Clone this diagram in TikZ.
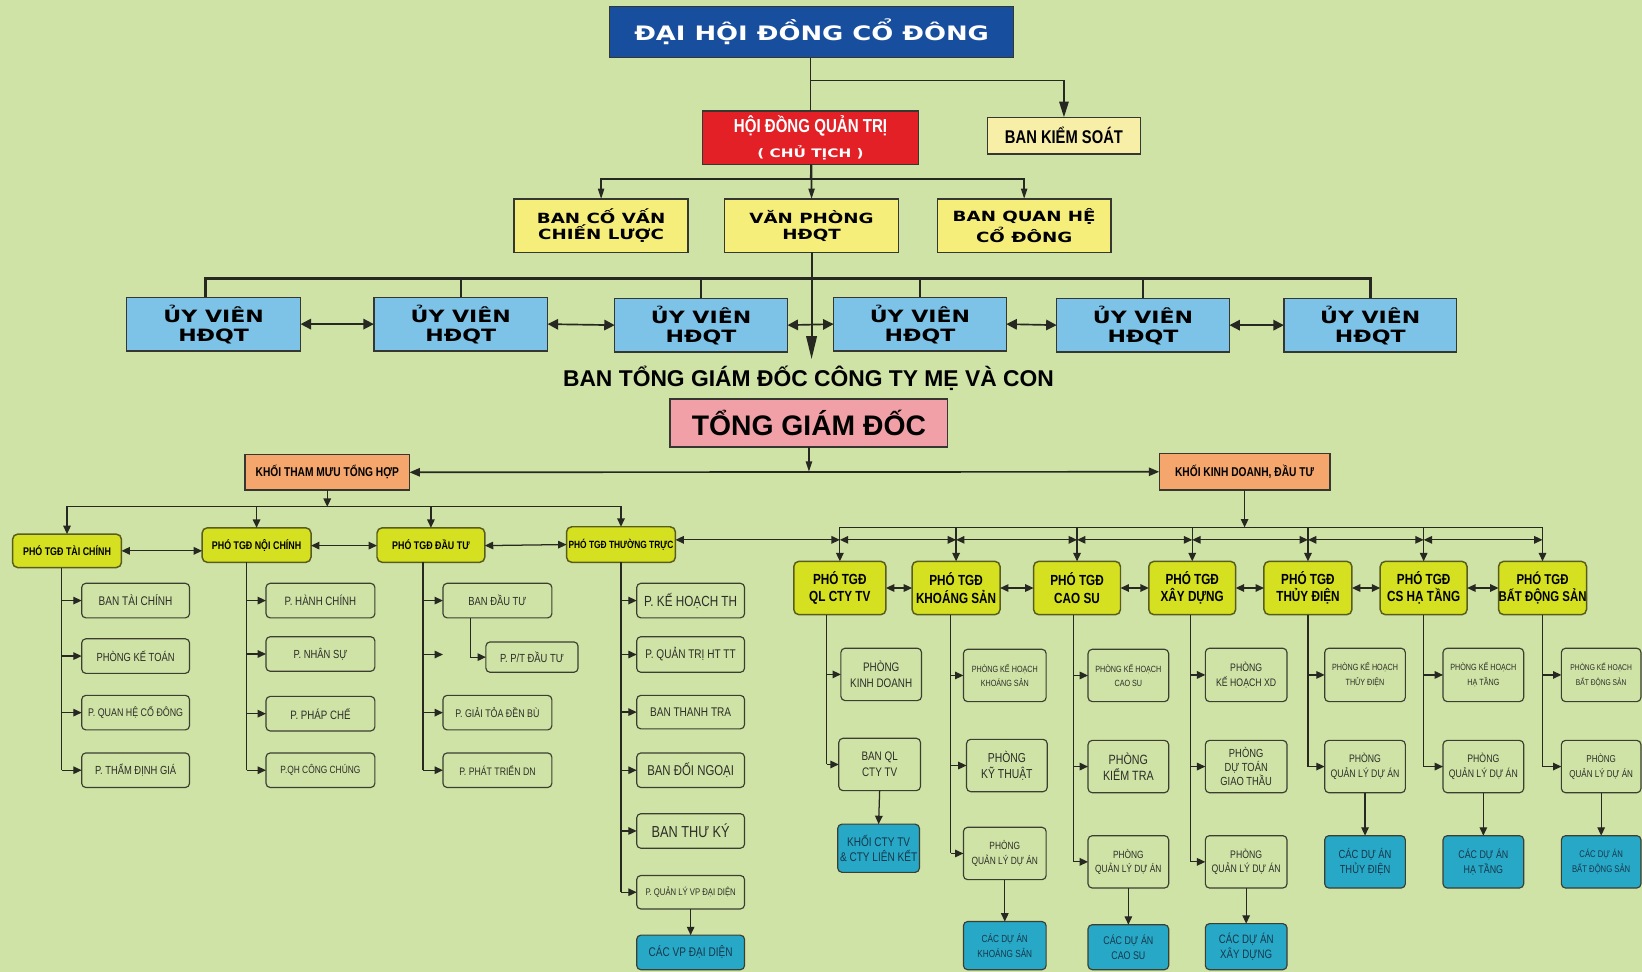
\documentclass[tikz,border=0pt]{standalone}
\usepackage{fontspec}
\setmainfont{Liberation Sans}
\newfontfamily\nar[FakeStretch=0.8]{Liberation Sans}
\newfontfamily\wid[FakeStretch=1.3]{DejaVu Sans}
\usetikzlibrary{arrows.meta,calc}
\definecolor{bgc}{RGB}{206,227,165}
\definecolor{dhblue}{RGB}{24,78,158}
\definecolor{hdred}{RGB}{227,32,38}
\definecolor{bksc}{RGB}{247,238,168}
\definecolor{ylwc}{RGB}{246,238,122}
\definecolor{uvc}{RGB}{125,195,232}
\definecolor{pinkc}{RGB}{240,160,166}
\definecolor{orc}{RGB}{244,166,108}
\definecolor{phoc}{RGB}{212,224,32}
\definecolor{phobd}{RGB}{88,92,30}
\definecolor{cyc}{RGB}{38,168,198}
\definecolor{cytx}{RGB}{25,55,75}
\definecolor{bd}{RGB}{55,55,50}
\definecolor{chbd}{RGB}{60,62,50}
\definecolor{chtx}{RGB}{45,45,40}
\definecolor{ln}{RGB}{40,40,35}
\newcommand\bx[7]{\node[#2,minimum width={((#5)-(#3))*0.5pt},minimum height={((#6)-(#4))*0.5pt}] (#1) at ({((#3)+(#5))/2},{((#4)+(#6))/2}) {#7};}
\tikzset{
 boxT/.style={draw=bd, line width=0.7pt, inner sep=0pt, outer sep=0pt, align=center},
 dhs/.style={boxT, fill=dhblue, text=white, font=\wid\bfseries\fontsize{9.5}{11}\selectfont},
 hds/.style={boxT, fill=hdred, text=white},
 bkss/.style={boxT, fill=bksc, font=\nar\bfseries\fontsize{8.8}{10}\selectfont},
 ylw/.style={boxT, fill=ylwc, font=\wid\bfseries\fontsize{6.7}{7.8}\selectfont},
 uvs/.style={boxT, fill=uvc, font=\wid\bfseries\fontsize{8.1}{9}\selectfont},
 tgds/.style={boxT, fill=pinkc, font=\bfseries\fontsize{13.5}{15}\selectfont},
 khs/.style={boxT, fill=orc, font=\nar\bfseries\fontsize{6.1}{7}\selectfont},
 phoL/.style={draw=phobd, line width=0.7pt, rounded corners=2.5pt, fill=phoc, inner sep=0pt, outer sep=0pt, align=center, font=\nar\bfseries\fontsize{5.3}{6}\selectfont},
 phoR/.style={phoL, font=\nar\bfseries\fontsize{7}{8.3}\selectfont},
 ch/.style={draw=chbd, line width=0.55pt, rounded corners=2pt, fill=bgc, text=chtx, inner sep=0pt, outer sep=0pt, align=center, font=\nar\fontsize{5.6}{7}\selectfont},
 cy/.style={ch, fill=cyc, text=cytx},
 fz/.style 2 args={font=\nar\fontsize{#1}{#2}\selectfont},
 cn/.style={draw=ln, line width=0.6pt},
 ar/.style={cn, -{Triangle[length=4pt,width=3.6pt]}},
 dar/.style={cn, {Triangle[length=4pt,width=3.6pt]}-{Triangle[length=4pt,width=3.6pt]}},
 tcn/.style={draw=ln, line width=0.8pt},
 tar/.style={tcn, -{Triangle[length=5pt,width=3pt]}},
 kar/.style={tcn, -{Triangle[length=7.5pt,width=4.5pt]}},
 uvar/.style={tcn, {Triangle[length=5pt,width=5pt]}-{Triangle[length=5pt,width=5pt]}},
 kdar/.style={tcn, {Triangle[length=5pt,width=4pt]}-{Triangle[length=5pt,width=4pt]}},
 mainar/.style={draw=ln, line width=1pt, -{Triangle[length=11pt,width=5pt]}}
}
\begin{document}
\begin{tikzpicture}[x=0.5pt,y=-0.5pt]
\fill[bgc] (0,0) rectangle (1568,928);
\useasboundingbox (0,0) rectangle (1568,928);
% helper levels
\coordinate (yB) at (0,77);
\coordinate (yC) at (0,171);
\coordinate (yD) at (0,266);
\coordinate (yTip) at (0,343);
\coordinate (yL) at (0,484);
\coordinate (yR1) at (0,503.6);
\coordinate (yR2) at (0,515.5);
% top
\bx{dhcd}{dhs}{582}{6}{968}{55}{ĐẠI HỘI ĐỒNG CỔ ĐÔNG}
\bx{hdqt}{hds}{671}{106}{877}{157}{{\nar\bfseries\fontsize{9}{10}\selectfont HỘI ĐỒNG QUẢN TRỊ}\\{\wid\bfseries\fontsize{5.6}{7.5}\selectfont ( CHỦ TỊCH )}}
\bx{bks}{bkss}{943}{112}{1089}{147}{BAN KIỂM SOÁT}
\bx{bcv}{ylw}{491}{190}{657}{241}{BAN CỐ VẤN\\CHIẾN LƯỢC}
\bx{vp}{ylw}{692}{190}{858}{241}{VĂN PHÒNG\\HĐQT}
\bx{bqh}{ylw}{895}{190}{1061}{241}{BAN QUAN HỆ\\CỔ ĐÔNG}
\draw[tcn] (dhcd.south -| hdqt.north) -- (hdqt.north);
\draw[kar] (hdqt.north |- yB) -| (bks.north);
\draw[tcn] (hdqt.south) -- (hdqt.south |- yC);
\draw[tar] (hdqt.south |- yC) -| (bcv.north);
\draw[tar] (hdqt.south |- yC) -| (bqh.north);
\draw[tar] (hdqt.south |- yC) -- (hdqt.south -| vp.north) -- (vp.north);
% uy vien
\bx{uv1}{uvs}{121}{284}{287}{335}{ỦY VIÊN\\HĐQT}
\bx{uv2}{uvs}{357}{284}{523}{335}{ỦY VIÊN\\HĐQT}
\bx{uv3}{uvs}{587}{285}{752}{336}{ỦY VIÊN\\HĐQT}
\bx{uv4}{uvs}{796}{284}{961}{335}{ỦY VIÊN\\HĐQT}
\bx{uv5}{uvs}{1009}{285}{1174}{336}{ỦY VIÊN\\HĐQT}
\bx{uv6}{uvs}{1226}{285}{1391}{336}{ỦY VIÊN\\HĐQT}
\draw[draw=ln, line width=1.2pt] ($(uv1.north)+(-8,0)$) |- (yD -| uv6.north) -- (uv6.north);
\foreach \u in {uv2,uv3,uv4,uv5} \draw[tcn] (\u.north |- yD) -- (\u.north);
\draw[uvar] (uv1.east) -- (uv2.west);
\draw[uvar] (uv2.east) -- (uv3.west);
\draw[uvar] (uv3.east) -- (uv4.west);
\draw[uvar] (uv4.east) -- (uv5.west);
\draw[uvar] (uv5.east) -- (uv6.west);
\draw[mainar] (vp.south) -- (vp.south |- yTip);
\node[font=\bfseries\fontsize{10.9}{12}\selectfont, inner sep=0pt] (btgd) at (772,361) {BAN TỔNG GIÁM ĐỐC CÔNG TY MẸ VÀ CON};
% TGD
\bx{tgd}{tgds}{640}{381}{905}{427}{TỔNG GIÁM ĐỐC}
\bx{ktm}{khs}{234}{434}{391}{468}{KHỐI THAM MƯU TỔNG HỢP}
\bx{kkd}{khs}{1107}{433}{1270}{468}{KHỐI KINH DOANH, ĐẦU TƯ}
\draw[kdar] (ktm.east) -- (kkd.west);
\draw[tar] (tgd.south) -- (tgd.south |- kkd.west);
% left pho
\bx{p1}{phoL}{12}{510}{116}{542}{PHÓ TGĐ TÀI CHÍNH}
\bx{p2}{phoL}{193}{504}{297}{537}{PHÓ TGĐ NỘI CHÍNH}
\bx{p3}{phoL}{360}{504}{463}{537}{PHÓ TGĐ ĐẦU TƯ}
\bx{p4}{phoL,font=\nar\bfseries\fontsize{5}{6}\selectfont}{541}{503}{645}{537}{PHÓ TGĐ THƯỜNG TRỰC}
\draw[ar] (ktm.south) -- (ktm.south |- yL);
\draw[ar] (ktm.south |- yL) -| (p1.north);
\draw[ar] (ktm.south |- yL) -| (p4.north);
\draw[ar] (p2.north |- yL) -- (p2.north);
\draw[ar] (p3.north |- yL) -- (p3.north);
\draw[dar] (p1.east) -- (p1.east -| p2.west);
\draw[dar] ($(p2.east)+(0,0.5)$) -- ($(p3.west)+(0,0.5)$);
\draw[dar] ($(p3.east)+(0,0.5)$) -- ($(p4.west)+(0,0)$);
% left children
\bx{c11}{ch,fz={6}{7}}{78}{557}{181}{590}{BAN TÀI CHÍNH}
\bx{c12}{ch,fz={5.6}{7}}{78}{610}{181}{643}{PHÒNG KẾ TOÁN}
\bx{c13}{ch,fz={5.3}{7}}{78}{664}{181}{697}{P. QUAN HỆ CỔ ĐÔNG}
\bx{c14}{ch,fz={5.6}{7}}{78}{719}{181}{752}{P. THẨM ĐỊNH GIÁ}
\coordinate (v1) at ($(p1.south west)+(47,0)$);
\draw[cn] (v1) -- (v1 |- c14.west);
\foreach \c in {c11,c12,c13,c14} \draw[ar] (v1 |- \c.west) -- (\c.west);
\bx{c21}{ch,fz={5.8}{7}}{254}{557}{358}{590}{P. HÀNH CHÍNH}
\bx{c22}{ch,fz={5.6}{7}}{254}{608}{358}{641}{P. NHÂN SỰ}
\bx{c23}{ch,fz={5.8}{7}}{254}{665}{358}{698}{P. PHÁP CHẾ}
\bx{c24}{ch,fz={5}{7}}{254}{719}{358}{752}{P.QH CÔNG CHÚNG}
\coordinate (v2) at ($(p2.south west)+(42.6,0)$);
\draw[cn] (v2) -- (v2 |- c24.west);
\foreach \c in {c21,c22,c23,c24} \draw[ar] (v2 |- \c.west) -- (\c.west);
\bx{c31}{ch,fz={5.6}{7}}{423}{557}{527}{590}{BAN ĐẦU TƯ}
\bx{c32}{ch,fz={5.6}{7}}{464}{613}{552}{642}{P. P/T ĐẦU TƯ}
\bx{c33}{ch,fz={5.3}{7}}{423}{664}{527}{697}{P. GIẢI TỎA ĐỀN BÙ}
\bx{c34}{ch,fz={5.2}{7}}{423}{719}{527}{752}{P. PHÁT TRIỂN DN}
\coordinate (v3) at ($(p3.south west)+(44,0)$);
\coordinate (dg) at (423,625);
\draw[cn] (v3) -- (v3 |- c34.west);
\foreach \c in {c31,c33,c34} \draw[ar] (v3 |- \c.west) -- (\c.west);
\draw[ar] (v3 |- dg) -- (dg);
\draw[ar] ($(c31.south west)+(26,0)$) |- (c32.west);
\bx{c41}{ch,fz={7}{8}}{608}{557}{711}{590}{P. KẾ HOẠCH TH}
\bx{c42}{ch,fz={6}{7}}{608}{608}{711}{642}{P. QUẢN TRỊ HT TT}
\bx{c43}{ch,fz={6}{7}}{608}{664}{711}{696}{BAN THANH TRA}
\bx{c44}{ch,fz={6.8}{8}}{608}{719}{711}{752}{BAN ĐỐI NGOẠI}
\bx{c45}{ch,fz={7.6}{8}}{608}{777}{711}{810}{BAN THƯ KÝ}
\bx{c46}{ch,fz={4.6}{6}}{608}{836}{711}{868}{P. QUẢN LÝ VP ĐẠI DIỆN}
\bx{c47}{cy,fz={6}{7}}{608}{893}{711}{926}{CÁC VP ĐẠI DIỆN}
\draw[cn] (p4.south) -- (p4.south |- c46.west);
\foreach \c in {c41,c42,c43,c44,c45,c46} \draw[ar] (p4.south |- \c.west) -- (\c.west);
\draw[ar] (c46.south) -- (c47.north);
% right pho
\bx{r1}{phoR}{758}{536}{846}{587}{PHÓ TGĐ\\QL CTY TV}
\bx{r2}{phoR}{871}{536}{955}{587}{PHÓ TGĐ\\KHOÁNG SẢN}
\bx{r3}{phoR}{987}{536}{1070}{587}{PHÓ TGĐ\\CAO SU}
\bx{r4}{phoR}{1097}{536}{1180}{587}{PHÓ TGĐ\\XÂY DỰNG}
\bx{r5}{phoR}{1207}{536}{1291}{587}{PHÓ TGĐ\\THỦY ĐIỆN}
\bx{r6}{phoR}{1318}{536}{1401}{587}{PHÓ TGĐ\\CS HẠ TẦNG}
\bx{r7}{phoR,font=\nar\bfseries\fontsize{6.8}{8.3}\selectfont}{1431}{536}{1515}{587}{PHÓ TGĐ\\BẤT ĐỘNG SẢN}
\draw[ar] (kkd.south) -- (kkd.south |- yR1);
\draw[cn] (r1.north |- yR1) -- (r7.north |- yR1);
\foreach \r in {r1,r2,r3,r4,r5,r6,r7} \draw[ar] (\r.north |- yR1) -- (\r.north);
\draw[dar] (p4.east |- yR2) -- (r1.north |- yR2);
\draw[dar] (r1.north |- yR2) -- (r2.north |- yR2);
\draw[dar] (r2.north |- yR2) -- (r3.north |- yR2);
\draw[dar] (r3.north |- yR2) -- (r4.north |- yR2);
\draw[dar] (r4.north |- yR2) -- (r5.north |- yR2);
\draw[dar] (r5.north |- yR2) -- (r6.north |- yR2);
\draw[dar] (r6.north |- yR2) -- (r7.north |- yR2);
\draw[dar] (r1.east) -- (r2.west);
\draw[dar] (r2.east) -- (r3.west);
\draw[dar] (r3.east) -- (r4.west);
\draw[dar] (r4.east) -- (r5.west);
\draw[dar] (r5.east) -- (r6.west);
\draw[dar] (r6.east) -- (r7.west);
% right children
\bx{d11}{ch,fz={5.9}{7.5}}{803}{619}{880}{669}{PHÒNG\\KINH DOANH}
\bx{d12}{ch,fz={5.9}{7.5}}{801}{705}{879}{755}{BAN QL\\CTY TV}
\bx{d13}{cy,fz={6}{7.3}}{800}{787}{878}{833}{KHỐI CTY TV\\\& CTY LIÊN KẾT}
\coordinate (w1) at ($(r1.south west)+(31.4,0)$);
\draw[cn] (w1) -- (w1 |- d12.west);
\foreach \c in {d11,d12} \draw[ar] (w1 |- \c.west) -- (\c.west);
\draw[ar] (d12.south) -- (d13.north);
\bx{d21}{ch,fz={4.3}{7}}{920}{620}{999}{670}{PHÒNG KẾ HOẠCH\\KHOÁNG SẢN}
\bx{d22}{ch,fz={6.2}{7.5}}{923}{706}{1000}{756}{PHÒNG\\KỸ THUẬT}
\bx{d23}{ch,fz={5}{7}}{920}{790}{999}{840}{PHÒNG\\QUẢN LÝ DỰ ÁN}
\bx{d24}{cy,fz={4.9}{7}}{920}{880}{999}{926}{CÁC DỰ ÁN\\KHOÁNG SẢN}
\coordinate (w2) at ($(r2.south west)+(37,0)$);
\draw[cn] (w2) -- (w2 |- d23.west);
\foreach \c in {d21,d22,d23} \draw[ar] (w2 |- \c.west) -- (\c.west);
\draw[ar] (d23.south) -- (d24.north);
\bx{d31}{ch,fz={4.3}{7}}{1039}{620}{1116}{670}{PHÒNG KẾ HOẠCH\\CAO SU}
\bx{d32}{ch,fz={6.4}{7.6}}{1039}{707}{1116}{757}{PHÒNG\\KIỂM TRA}
\bx{d33}{ch,fz={5}{7}}{1039}{798}{1116}{848}{PHÒNG\\QUẢN LÝ DỰ ÁN}
\bx{d34}{cy,fz={5.3}{7}}{1039}{883}{1116}{926}{CÁC DỰ ÁN\\CAO SU}
\coordinate (w3) at ($(r3.south west)+(38,0)$);
\draw[cn] (w3) -- (w3 |- d33.west);
\foreach \c in {d31,d32,d33} \draw[ar] (w3 |- \c.west) -- (\c.west);
\draw[ar] (d33.south) -- (d34.north);
\bx{d41}{ch,fz={5.2}{7}}{1151}{619}{1229}{670}{PHÒNG\\KẾ HOẠCH XD}
\bx{d42}{ch,fz={5.6}{6.6}}{1151}{707}{1229}{757}{PHÒNG\\DỰ TOÁN\\GIAO THẦU}
\bx{d43}{ch,fz={5.2}{7}}{1151}{798}{1229}{848}{PHÒNG\\QUẢN LÝ DỰ ÁN}
\bx{d44}{cy,fz={5.8}{7}}{1151}{882}{1229}{926}{CÁC DỰ ÁN\\XÂY DỰNG}
\coordinate (w4) at ($(r4.south west)+(40,0)$);
\draw[cn] (w4) -- (w4 |- d43.west);
\foreach \c in {d41,d42,d43} \draw[ar] (w4 |- \c.west) -- (\c.west);
\draw[ar] (d43.south) -- (d44.north);
\bx{d51}{ch,fz={4.3}{7}}{1265}{619}{1342}{670}{PHÒNG KẾ HOẠCH\\THỦY ĐIỆN}
\bx{d52}{ch,fz={5.2}{7}}{1265}{707}{1342}{757}{PHÒNG\\QUẢN LÝ DỰ ÁN}
\bx{d53}{cy,fz={5.6}{7}}{1265}{798}{1342}{848}{CÁC DỰ ÁN\\THỦY ĐIỆN}
\draw[cn] (r5.south) -- (r5.south |- d52.west);
\foreach \c in {d51,d52} \draw[ar] (r5.south |- \c.west) -- (\c.west);
\draw[ar] (d52.south) -- (d53.north);
\bx{d61}{ch,fz={4.3}{7}}{1378}{619}{1455}{670}{PHÒNG KẾ HOẠCH\\HẠ TẦNG}
\bx{d62}{ch,fz={5.2}{7}}{1378}{707}{1455}{757}{PHÒNG\\QUẢN LÝ DỰ ÁN}
\bx{d63}{cy,fz={5.3}{7}}{1378}{798}{1455}{848}{CÁC DỰ ÁN\\HẠ TẦNG}
\draw[cn] (r6.south) -- (r6.south |- d62.west);
\foreach \c in {d61,d62} \draw[ar] (r6.south |- \c.west) -- (\c.west);
\draw[ar] (d62.south) -- (d63.north);
\bx{d71}{ch,fz={4}{7}}{1491}{619}{1567}{670}{PHÒNG KẾ HOẠCH\\BẤT ĐỘNG SẢN}
\bx{d72}{ch,fz={4.8}{7}}{1491}{707}{1567}{757}{PHÒNG\\QUẢN LÝ DỰ ÁN}
\bx{d73}{cy,fz={4.6}{7}}{1491}{798}{1567}{848}{CÁC DỰ ÁN\\BẤT ĐỘNG SẢN}
\draw[cn] (r7.south) -- (r7.south |- d72.west);
\foreach \c in {d71,d72} \draw[ar] (r7.south |- \c.west) -- (\c.west);
\draw[ar] (d72.south) -- (d73.north);
\end{tikzpicture}
\end{document}
